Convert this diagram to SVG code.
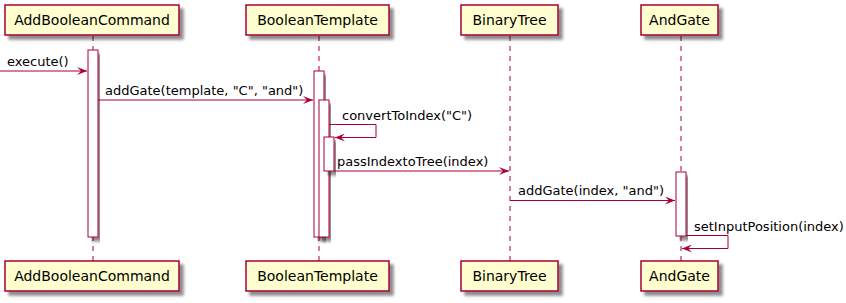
<svg xmlns="http://www.w3.org/2000/svg" width="846" height="303" viewBox="0 0 846 303">
  <defs>
    <filter id="shadow" x="-10%" y="-20%" width="130%" height="160%">
      <feGaussianBlur in="SourceAlpha" stdDeviation="1.7" result="blur"/>
      <feColorMatrix in="blur" type="matrix" values="0 0 0 0 0  0 0 0 0 0  0 0 0 0 0  0 0 0 0.45 0" result="shade"/>
      <feOffset in="shade" dx="4" dy="4" result="off"/>
      <feMerge><feMergeNode in="off"/><feMergeNode in="SourceGraphic"/></feMerge>
    </filter>
    <marker id="arrow" viewBox="0 0 10 8" refX="10" refY="4" markerWidth="10" markerHeight="8" markerUnits="userSpaceOnUse" orient="auto">
      <polygon points="0,0 10,4 0,8 4,4" fill="#A80036"/>
    </marker>
  </defs>
  <style>
    .box { fill: #FEFECE; stroke: #A80036; stroke-width: 1.5; filter: url(#shadow); }
    .life { stroke: #A80036; stroke-width: 1; stroke-dasharray: 5,5; fill: none; }
    .act { fill: #FFFFFF; stroke: #A80036; stroke-width: 1; filter: url(#shadow); }
    .msg { stroke: #A80036; stroke-width: 1; fill: none; }
    .pname { font-family: "DejaVu Sans", sans-serif; font-size: 14px; fill: #000; text-anchor: middle; }
    .mtext { font-family: "DejaVu Sans", sans-serif; font-size: 13px; fill: #000; }
  </style>

  <!-- lifelines -->
  <g id="lifelines">
    <line class="life" x1="93" y1="36" x2="93" y2="261"/>
    <line class="life" x1="319" y1="36" x2="319" y2="261"/>
    <line class="life" x1="510" y1="36" x2="510" y2="261"/>
    <line class="life" x1="681" y1="36" x2="681" y2="261"/>
  </g>

  <!-- participants -->
  <g id="AddBooleanCommand">
    <rect class="box" x="5" y="5" width="174" height="30"/>
    <text class="pname" x="92" y="25">AddBooleanCommand</text>
    <rect class="box" x="5" y="261" width="174" height="30"/>
    <text class="pname" x="92" y="281">AddBooleanCommand</text>
    <rect class="act" x="88" y="50" width="10" height="187"/>
  </g>
  <g id="BooleanTemplate">
    <rect class="box" x="246" y="5" width="143" height="30"/>
    <text class="pname" x="317.5" y="25">BooleanTemplate</text>
    <rect class="box" x="246" y="261" width="143" height="30"/>
    <text class="pname" x="317.5" y="281">BooleanTemplate</text>
    <rect class="act" x="314" y="71" width="10" height="166"/>
    <rect class="act" x="319" y="100" width="10" height="137"/>
    <rect class="act" x="324" y="137" width="10" height="34"/>
  </g>
  <g id="BinaryTree">
    <rect class="box" x="461" y="5" width="97" height="30"/>
    <text class="pname" x="509.5" y="25">BinaryTree</text>
    <rect class="box" x="461" y="261" width="97" height="30"/>
    <text class="pname" x="509.5" y="281">BinaryTree</text>
  </g>
  <g id="AndGate">
    <rect class="box" x="641" y="5" width="77" height="30"/>
    <text class="pname" x="679.5" y="25">AndGate</text>
    <rect class="box" x="641" y="261" width="77" height="30"/>
    <text class="pname" x="679.5" y="281">AndGate</text>
    <rect class="act" x="676" y="172" width="10" height="64"/>
  </g>

  <!-- messages -->
  <g id="connectors">
    <line class="msg" x1="0" y1="71" x2="87" y2="71" marker-end="url(#arrow)"/>
    <text class="mtext" x="7" y="66">execute()</text>

    <line class="msg" x1="98" y1="100" x2="313" y2="100" marker-end="url(#arrow)"/>
    <text class="mtext" x="105" y="95">addGate(template, "C", "and")</text>

    <polyline class="msg" points="329,124.5 376,124.5 376,137.5 335,137.5" marker-end="url(#arrow)"/>
    <text class="mtext" x="342" y="120">convertToIndex("C")</text>

    <line class="msg" x1="334" y1="171" x2="509" y2="171" marker-end="url(#arrow)"/>
    <text class="mtext" x="337" y="166">passIndextoTree(index)</text>

    <line class="msg" x1="510" y1="200.5" x2="675" y2="200.5" marker-end="url(#arrow)"/>
    <text class="mtext" x="518" y="195">addGate(index, "and")</text>

    <polyline class="msg" points="686,235.5 728,235.5 728,248.5 682,248.5" marker-end="url(#arrow)"/>
    <text class="mtext" x="694" y="231">setInputPosition(index)</text>
  </g>
</svg>
